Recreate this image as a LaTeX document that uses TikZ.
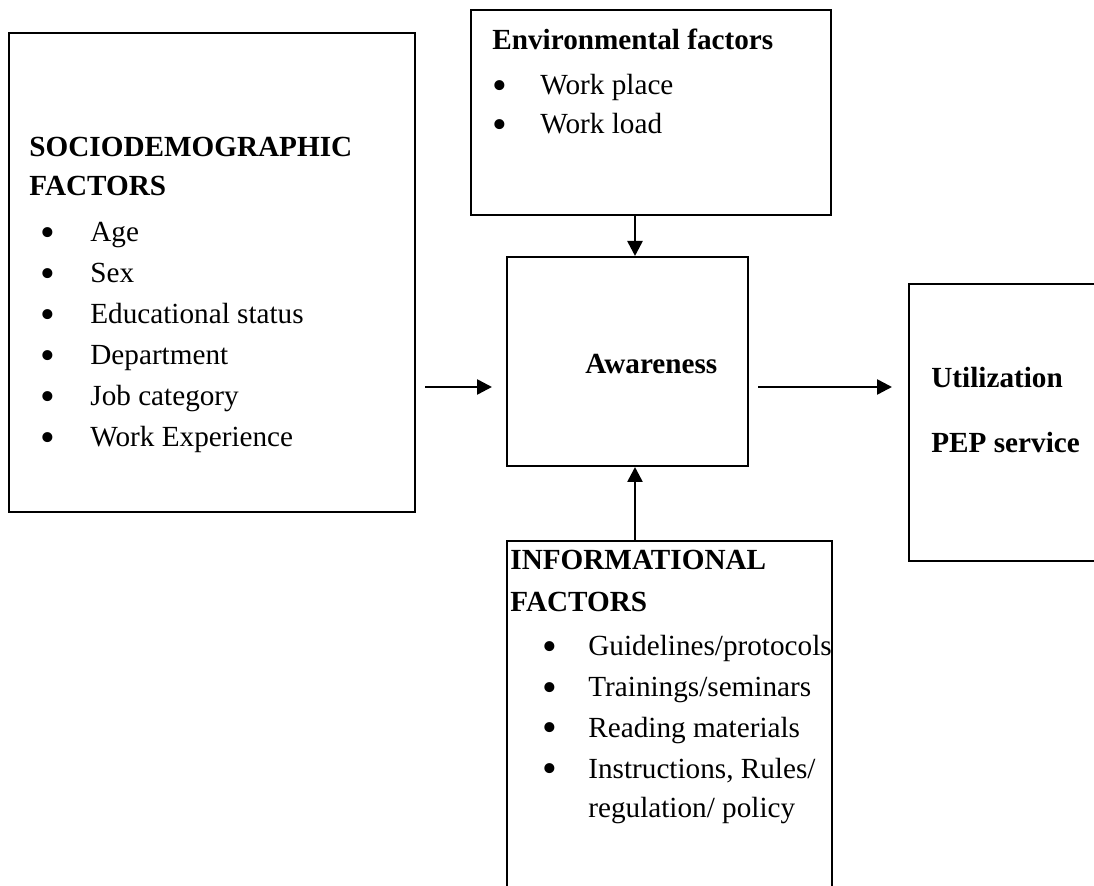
\documentclass[tikz,border=0pt]{standalone}
\usepackage{fontspec}
\setmainfont{Liberation Serif}
\usetikzlibrary{fit,arrows.meta}
\begin{document}
\begin{tikzpicture}[x=0.5pt,y=-0.5pt,
  box/.style={draw,line width=1pt,inner sep=0pt},
  txt/.style={anchor=base west,inner sep=0pt,font=\fontsize{14.6}{18}\selectfont},
  ttl/.style={anchor=base west,inner sep=0pt,font=\fontsize{14.6}{18}\selectfont\bfseries},
  bul/.style={anchor=base,inner sep=0pt,font=\fontsize{21}{21}\selectfont},
  arr/.style={line width=1.3pt,-{Triangle[length=7.5pt,width=7.5pt]}}]
\useasboundingbox (0,0) rectangle (1094,886);
\clip (0,0) rectangle (1094,886);
% boxes
\node[box,fit={(9,33) (415,512)}] (socio) {};
\node[box,fit={(471,10) (831,215)}] (env) {};
\node[box,fit={(507,257) (748,466)}] (aware) {};
\node[box,fit={(909,284) (1120,561)}] (util) {};
\node[box,fit={(507,541) (832,920)}] (info) {};
% helper coordinates
\coordinate (ay) at (0,387);
\coordinate (ax) at (635,0);
\newcommand{\bu}{\raisebox{-2.3pt}{•}}
% sociodemographic
\node[ttl] (s1) at (29,157) {SOCIODEMOGRAPHIC};
\node[ttl] (s2) at (29,196) {FACTORS};
\foreach \t [count=\i] in {Age,Sex,Educational status,Department,Job category,Work Experience}{
  \node[bul] (sb\i) at (48,{242+41*(\i-1)}) {\bu};
  \node[txt] (st\i) at (90,{242+41*(\i-1)}) {\t};
}
% environmental
\node[ttl] (e1) at (492,50) {Environmental factors};
\node[bul] (eb1) at (500,95) {\bu};
\node[txt] (et1) at (540,95) {Work place};
\node[bul] (eb2) at (500,134) {\bu};
\node[txt] (et2) at (540,134) {Work load};
% awareness
\node[ttl] (a1) at (585,374) {Awareness};
% utilization
\node[ttl] (u1) at (931,388) {Utilization};
\node[ttl] (u2) at (931,453) {PEP service};
% informational
\node[ttl] (i1) at (510,570) {INFORMATIONAL};
\node[ttl] (i2) at (510,612) {FACTORS};
\foreach \t [count=\i] in {Guidelines/protocols,Trainings/seminars,Reading materials,{Instructions, Rules/}}{
  \node[bul] (ib\i) at (550,{656+40.7*(\i-1)}) {\bu};
  \node[txt] (it\i) at (588,{656+40.7*(\i-1)}) {\t};
}
\node[txt] (it5) at (588,818) {regulation/ policy};
% connectors
\draw[arr] (env.south -| ax) -- (aware.north -| ax);
\draw[arr] (info.north -| ax) -- (aware.south -| ax);
\draw[arr,shorten <=4.5pt,shorten >=7pt] (socio.east |- ay) -- (aware.west |- ay);
\draw[arr,shorten <=4.5pt,shorten >=8pt] (aware.east |- ay) -- (util.west |- ay);
\end{tikzpicture}
\end{document}
